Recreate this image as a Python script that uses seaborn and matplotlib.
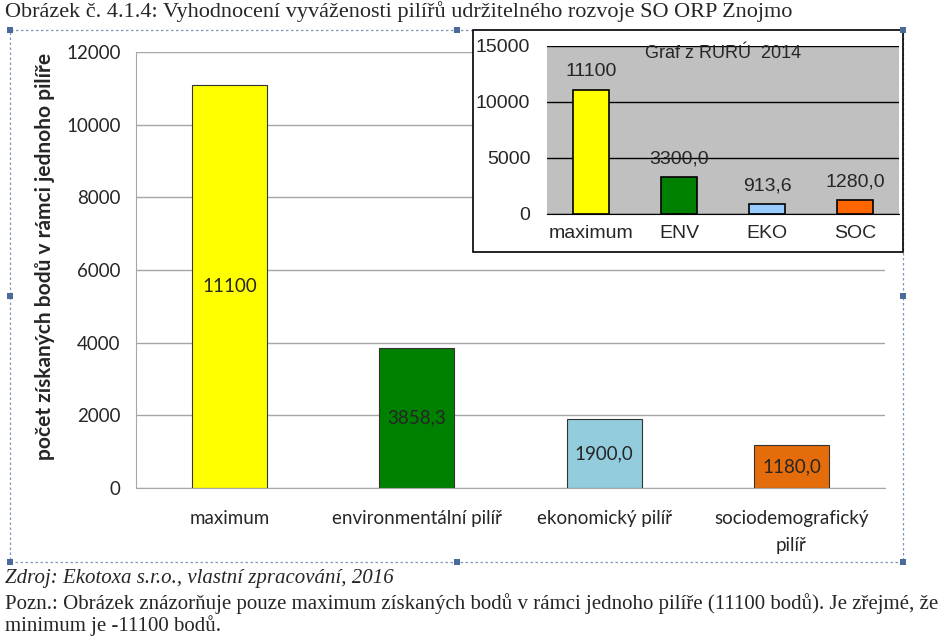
import matplotlib
matplotlib.use("Agg")
import matplotlib.pyplot as plt
from matplotlib.patches import Rectangle
import pandas as pd
import seaborn as sns

# main chart data
pillars = ["maximum", "environmentální pilíř", "ekonomický pilíř", "sociodemografický\npilíř"]
points = [11100, 3858.3, 1900.0, 1180.0]
point_labels = ["11100", "3858,3", "1900,0", "1180,0"]
main_colors = ["#FFFF00", "#008000", "#93CDDD", "#E46C0A"]

# inset (RURÚ 2014) data
rur_cats = ["maximum", "ENV", "EKO", "SOC"]
rur_points = [11100, 3300.0, 913.6, 1280.0]
rur_labels = ["11100", "3300,0", "913,6", "1280,0"]
rur_colors = ["#FFFF00", "#008000", "#99CCFF", "#FF6600"]

sns.set_style("white")
plt.rcParams["font.family"] = ["Lato", "DejaVu Sans"]

W, H = 950, 642
fig = plt.figure(figsize=(W / 100, H / 100), dpi=100)


def fx(px):
    return px / W


def fy(py):
    return 1 - py / H


# ---- main chart ----
df = pd.DataFrame({"pilir": pillars, "body": points})
ax = fig.add_axes([fx(136), fy(488), fx(885) - fx(136), fy(52) - fy(488)])
ax.set_zorder(1)
sns.barplot(data=df, x="pilir", y="body", hue="pilir", palette=main_colors,
            saturation=1, legend=False, width=0.4, edgecolor="#333333",
            linewidth=0.8, ax=ax)
ax.set_ylim(0, 12000)
ax.set_xlim(-0.5, 3.5)
ax.set_yticks(range(0, 12001, 2000))
ax.yaxis.grid(True, color="#A6A6A6", lw=1)
ax.set_axisbelow(True)
for s in ["top", "right"]:
    ax.spines[s].set_visible(False)
for s in ["left", "bottom"]:
    ax.spines[s].set_color("#A6A6A6")
ax.tick_params(axis="y", length=7, color="#A6A6A6", labelsize=13.5, pad=4)
ax.tick_params(axis="x", length=0, labelsize=13.5, pad=16)
ax.set_xticks(range(4))
ax.set_xticklabels(pillars, linespacing=1.7)
ax.set_xticks([-0.5, 0.5, 1.5, 2.5, 3.5], minor=True)
ax.tick_params(axis="x", which="minor", length=7, color="#A6A6A6")
ax.set_xlabel("")
ax.set_ylabel("počet získaných bodů v rámci jednoho pilíře", fontsize=15,
              fontweight="bold")
ax.yaxis.set_label_coords(-0.108, 0.53)
for i, (v, lab) in enumerate(zip(points, point_labels)):
    ax.text(i, v / 2, lab, ha="center", va="center", fontsize=13.5)

# ---- inset box ----
fig.patches.append(Rectangle((fx(473), fy(252)), fx(903) - fx(473), fy(30) - fy(252),
                             transform=fig.transFigure, facecolor="white",
                             edgecolor="black", lw=1.2, zorder=2))

arial = ["Liberation Sans", "DejaVu Sans"]
rdf = pd.DataFrame({"cat": rur_cats, "body": rur_points})
ax2 = fig.add_axes([fx(547), fy(214), fx(899) - fx(547), fy(46) - fy(214)])
ax2.set_zorder(3)
ax2.set_facecolor("#C0C0C0")
sns.barplot(data=rdf, x="cat", y="body", hue="cat", palette=rur_colors,
            saturation=1, legend=False, width=0.41, edgecolor="black",
            linewidth=1.2, ax=ax2)
ax2.set_ylim(0, 15000)
ax2.set_xlim(-0.5, 3.5)
ax2.set_yticks(range(0, 15001, 5000))
ax2.yaxis.grid(True, color="black", lw=1)
ax2.set_axisbelow(True)
for s in ["top", "right", "left"]:
    ax2.spines[s].set_visible(False)
ax2.spines["bottom"].set_color("black")
ax2.tick_params(axis="y", length=0, labelsize=14, pad=12)
ax2.tick_params(axis="x", length=0, labelsize=14, pad=8)
ax2.set_xticks(range(4))
ax2.set_xticks([-0.5, 0.5, 1.5, 2.5, 3.5], minor=True)
ax2.tick_params(axis="x", which="minor", length=5, color="black")
for lab in ax2.get_xticklabels() + ax2.get_yticklabels():
    lab.set_family(arial)
ax2.set_xlabel("")
ax2.set_ylabel("")
for i, (v, lab) in enumerate(zip(rur_points, rur_labels)):
    ax2.text(i, v + 1600, lab, ha="center", va="center", fontsize=14, family=arial)
ax2.text(0.5, 0.955, "Graf z RURÚ  2014", transform=ax2.transAxes, ha="center",
         va="center", fontsize=13, family=arial)

# ---- dashed frame with handles ----
frame_col = "#7F96B8"
fig.patches.append(Rectangle((fx(10), fy(562)), fx(903) - fx(10), fy(30) - fy(562),
                             transform=fig.transFigure, fill=False,
                             edgecolor=frame_col, lw=0.9, ls=(0, (2, 2)), zorder=0))
for hx, hy in [(10, 30), (457, 30), (903, 30), (10, 296), (903, 296),
               (10, 562), (457, 562), (903, 562)]:
    fig.patches.append(Rectangle((fx(hx - 3), fy(hy + 3)), fx(6), 6 / H,
                                 transform=fig.transFigure, facecolor="#4A6A9A",
                                 edgecolor="none", zorder=4))

# ---- captions ----
serif = ["Liberation Serif", "DejaVu Serif"]
fig.text(fx(5), fy(12), "Obrázek č. 4.1.4: Vyhodnocení vyváženosti pilířů udržitelného rozvoje SO ORP Znojmo",
         ha="left", va="center", fontsize=16, family=serif)
fig.text(fx(5), fy(579), "Zdroj: Ekotoxa s.r.o., vlastní zpracování, 2016",
         ha="left", va="center", fontsize=15, style="italic", family=serif)
fig.text(fx(5), fy(604), "Pozn.: Obrázek znázorňuje pouze maximum získaných bodů v rámci jednoho pilíře (11100 bodů). Je zřejmé, že",
         ha="left", va="center", fontsize=15, family=serif)
fig.text(fx(5), fy(626), "minimum je -11100 bodů.",
         ha="left", va="center", fontsize=15, family=serif)

fig.savefig("out.png", dpi=100)
